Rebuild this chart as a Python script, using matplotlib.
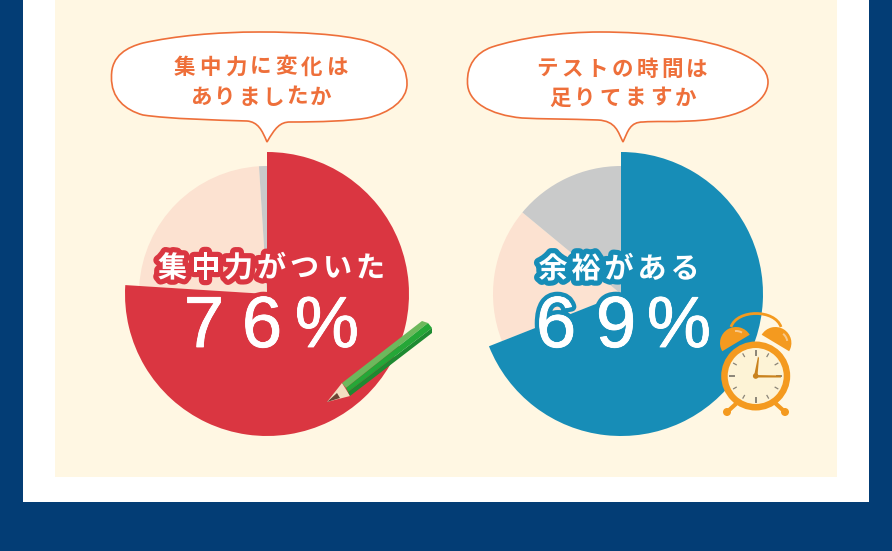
import matplotlib
matplotlib.use('Agg')
import matplotlib.pyplot as plt
import matplotlib.patheffects as pe
from matplotlib.patches import Rectangle, PathPatch, Circle, Wedge, Polygon
from matplotlib.path import Path
import numpy as np

plt.rcParams['font.family'] = ['Noto Sans CJK JP', 'DejaVu Sans']

# ── Data ──────────────────────────────────────────────────────────────────────
focus_values = [76, 23, 1]
time_values  = [69, 17, 14]
focus_q      = ["集中力に変化は", "ありましたか"]
time_q       = ["テストの時間は", "足りてますか"]
focus_label  = "集中力がついた"
time_label   = "余裕がある"
focus_pct    = "76%"
time_pct     = "69%"

NAVY   = '#033D75'
CREAM  = '#FFF7E3'
RED    = '#DA3641'
BLUE   = '#178DB7'
PALE   = '#FCE2D1'
GREY   = '#C9CACA'
ORANGE = '#EE6F3A'
CLOCK  = '#F49A1F'

W, H = 892, 551


def Y(y):
    return H - y


fig = plt.figure(figsize=(W / 100, H / 100), dpi=100, facecolor=NAVY)
ax = fig.add_axes([0, 0, 1, 1])


def draw_pie(values, cx, cy, color):
    wedges, _ = ax.pie(values, colors=[color, PALE, GREY], startangle=90,
                       counterclock=False, center=(cx, Y(cy)), radius=142,
                       wedgeprops=dict(linewidth=0))
    wedges[0].set_zorder(3)
    for w in wedges[1:]:
        w.set_radius(128)
        w.set_zorder(2)


def spaced(text, x0, pitch, y, **kw):
    for i, ch in enumerate(text):
        ax.text(x0 + i * pitch, Y(y), ch, ha='center', va='center', zorder=6, **kw)


def bubble(pts):
    codes = [Path.MOVETO] + [Path.CURVE4] * (len(pts) - 1)
    verts = [(x, Y(y)) for x, y in pts]
    ax.add_patch(PathPatch(Path(verts, codes), fc='white', ec=ORANGE, lw=1.2, zorder=4))


# ── Panels ────────────────────────────────────────────────────────────────────
ax.add_patch(Rectangle((23, Y(502)), 846, 502, fc='white', ec='none', zorder=0))
ax.add_patch(Rectangle((55, Y(477)), 782, 477, fc=CREAM, ec='none', zorder=1))

# ── Pies ──────────────────────────────────────────────────────────────────────
draw_pie(focus_values, 267, 294, RED)
draw_pie(time_values, 621, 294, BLUE)

# ── Speech bubbles ────────────────────────────────────────────────────────────
bubble([(111.5, 77),
        (111, 55), (128, 47), (143, 43),
        (175, 36), (215, 32), (260, 32),
        (300, 32), (340, 34), (367, 41),
        (392, 49), (407, 62), (407, 84),
        (407, 100), (390, 113), (367, 118),
        (350, 121), (320, 122), (290, 122),
        (280, 122), (275, 128), (267, 142),
        (262, 130), (258, 122), (247, 121),
        (215, 120), (170, 119), (143, 115),
        (125, 110), (111, 98), (111.5, 77)])
bubble([(467.5, 82),
        (467, 66), (475, 53), (492, 47),
        (520, 38), (560, 32), (600, 32),
        (650, 32), (705, 38), (738, 52),
        (757, 60), (768, 70), (768, 82),
        (768, 100), (745, 119), (690, 121),
        (670, 122), (655, 121), (643, 122),
        (630, 122), (628, 131), (623, 142),
        (618, 132), (616, 121), (598, 120),
        (570, 119), (540, 119), (522, 118),
        (490, 115), (467, 102), (467.5, 82)])

q_style = dict(color=ORANGE, fontsize=15.5, fontweight='bold')
spaced(focus_q[0], 184.5, 25.5, 67, **q_style)
spaced(focus_q[1], 201, 24, 97, **q_style)
spaced(time_q[0], 547, 25, 69, **q_style)
spaced(time_q[1], 560, 25.2, 98, **q_style)

# ── Big labels ────────────────────────────────────────────────────────────────
red_edge  = [pe.withStroke(linewidth=7.5, foreground=RED)]
blue_edge = [pe.withStroke(linewidth=7.5, foreground=BLUE)]
spaced(focus_label, 172.5, 33, 268, color='white', fontsize=21, fontweight='bold',
       path_effects=red_edge)
spaced(time_label, 553, 33, 269, color='white', fontsize=21, fontweight='bold',
       path_effects=blue_edge)

pct_style = dict(color='white', fontsize=52, ha='center', va='baseline', zorder=6,
                 family='Liberation Sans')
red_pct  = [pe.withStroke(linewidth=7, foreground=RED),
            pe.withStroke(linewidth=0.6, foreground='white')]
blue_pct = [pe.withStroke(linewidth=7, foreground=BLUE),
            pe.withStroke(linewidth=0.6, foreground='white')]
for ch, x in zip(focus_pct, [204, 262, 327]):
    ax.text(x, Y(347), ch, path_effects=red_pct, **pct_style)
for ch, x in zip(time_pct, [556, 616, 679]):
    ax.text(x, Y(347), ch, path_effects=blue_pct, **pct_style)


# ── Pencil ────────────────────────────────────────────────────────────────────
def poly(pts, color, z=7):
    ax.add_patch(Polygon([(x, Y(y)) for x, y in pts], closed=True, fc=color, ec='none', zorder=z))


poly([(342, 383), (350, 396), (327, 402)], '#F3DFC1')
poly([(337, 393), (340, 398), (327, 402)], '#6B4535')
poly([(342, 383), (422, 321), (428, 323), (346, 388)], '#6DB85C')
poly([(346, 388), (428, 323), (432, 328), (348, 392)], '#25A737')
poly([(348, 392), (432, 328), (432, 333), (350, 396)], '#1E8A31')

# ── Alarm clock ───────────────────────────────────────────────────────────────
cx, cy = 755.7, 376
ax.add_patch(PathPatch(Path([(731, Y(327)), (737, Y(309)), (775, Y(309)), (781, Y(327))],
                            [Path.MOVETO, Path.CURVE4, Path.CURVE4, Path.CURVE4]),
                       fc='none', ec=CLOCK, lw=2, zorder=7))
ax.add_patch(Wedge((736, Y(343)), 16, 31, 211, fc=CLOCK, ec='none', zorder=7))
ax.add_patch(Wedge((775.4, Y(343)), 16, -31, 149, fc=CLOCK, ec='none', zorder=7))
ax.add_patch(Wedge((736, Y(343)), 13, 60, 95, width=2, fc='#F8C88A', ec='none', zorder=8))
ax.add_patch(Wedge((775.4, Y(343)), 13, 10, 50, width=2, fc='#F8C88A', ec='none', zorder=8))
for x0, x1, y1 in [(738, 727, 412), (774, 785, 412)]:
    ax.plot([x0, x1], [Y(402), Y(y1)], color=CLOCK, lw=3, solid_capstyle='round', zorder=7)
    ax.add_patch(Circle((x1, Y(y1)), 4, fc=CLOCK, ec='none', zorder=7))
ax.add_patch(Circle((cx, Y(cy)), 34.5, fc=CLOCK, ec='none', zorder=8))
ax.add_patch(Circle((cx, Y(cy)), 28, fc='#FDF3D6', ec='none', zorder=9))
for i in range(12):
    a = np.deg2rad(i * 30)
    r0, r1 = (21.5, 25.5) if i % 3 == 0 else (22.5, 25.5)
    ax.plot([cx + r0 * np.sin(a), cx + r1 * np.sin(a)],
            [Y(cy) + r0 * np.cos(a), Y(cy) + r1 * np.cos(a)],
            color='#8A8478', lw=1.4 if i % 3 == 0 else 0.9, zorder=10)
poly([(754, 376), (757.5, 376), (759, 358), (758, 356.5)], '#C9821E', z=11)
poly([(755, 375), (781, 375.5), (781, 377.5), (755, 377.5)], '#C9821E', z=11)
ax.add_patch(Circle((cx, Y(cy)), 2.8, fc='#C9821E', ec='none', zorder=11))

ax.set_xlim(0, W)
ax.set_ylim(0, H)
ax.set_aspect('auto')
ax.axis('off')

fig.savefig('out.png', dpi=100, facecolor=fig.get_facecolor())
plt.close(fig)
